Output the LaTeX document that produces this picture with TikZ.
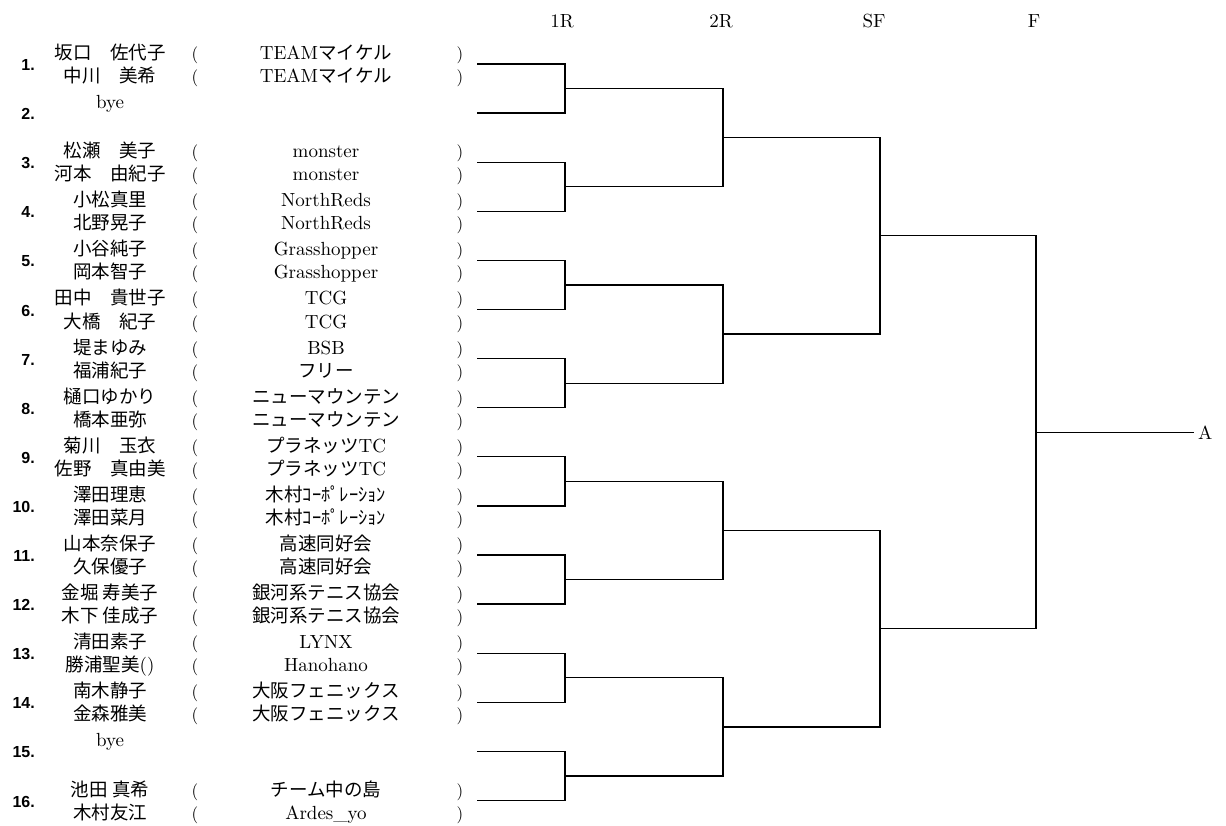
\documentclass[tikz,border=0pt]{standalone}
\usepackage{fontspec}
\setmainfont{lmroman10-regular.otf}
\newfontfamily\jpf{Noto Sans CJK JP}
\newfontfamily\numf{Liberation Sans}
\newcommand\J[1]{{\jpf\fontsize{18.5}{20}\selectfont #1}}
\tikzset{
  latin/.style={font=\fontsize{19}{20}\selectfont, inner sep=0pt},
  txt/.style={latin, anchor=base},
  par/.style={font=\fontsize{17}{20}\selectfont, inner sep=0pt, anchor=base},
  num/.style={font=\numf\bfseries\fontsize{16}{16}\selectfont, inner sep=0pt, anchor=east},
  hdr/.style={latin, anchor=base},
  brk/.style={line width=1.3pt, line cap=rect, line join=miter}
}
\newcommand\entry[5]{%
  \pgfmathsetmacro\yy{64+49.1*(#1-1)}%
  \node[num] (num#1) at (35,\yy+1) {#1.};
  \node[txt] (na#1) at (110,\yy-4.5) {#2};
  \node[par] (pa#1) at (195,\yy-4.5) {(};
  \node[txt] (ta#1) at (326,\yy-4.5) {#3};
  \node[par] (qa#1) at (460,\yy-4.5) {)};
  \node[txt] (nb#1) at (110,\yy+18.5) {#4};
  \node[par] (pb#1) at (195,\yy+18.5) {(};
  \node[txt] (tb#1) at (326,\yy+18.5) {#5};
  \node[par] (qb#1) at (460,\yy+18.5) {)};
  \coordinate (s#1) at (478,\yy);
  \coordinate (e#1) at (565,\yy);
}
\newcommand\byeentry[1]{%
  \pgfmathsetmacro\yy{64+49.1*(#1-1)}%
  \node[num] (num#1) at (35,\yy+1) {#1.};
  \node[txt] (na#1) at (110,\yy-4.5) {bye};
  \coordinate (s#1) at (478,\yy);
  \coordinate (e#1) at (565,\yy);
}
\begin{document}
\begin{tikzpicture}[x=1pt,y=-1pt]
\useasboundingbox (0,0) rectangle (1226,826);
% headers
\node[hdr] (h1) at (562,27.5) {1R};
\node[hdr] (h2) at (721,27.5) {2R};
\node[hdr] (h3) at (874,27.5) {SF};
\node[hdr] (h4) at (1034,27.5) {F};
% entries
\entry{1}{\J{坂口　佐代子}}{TEAM\J{マイケル}}{\J{中川　美希}}{TEAM\J{マイケル}}
\byeentry{2}
\entry{3}{\J{松瀬　美子}}{monster}{\J{河本　由紀子}}{monster}
\entry{4}{\J{小松真里}}{NorthReds}{\J{北野晃子}}{NorthReds}
\entry{5}{\J{小谷純子}}{Grasshopper}{\J{岡本智子}}{Grasshopper}
\entry{6}{\J{田中　貴世子}}{TCG}{\J{大橋　紀子}}{TCG}
\entry{7}{\J{堤まゆみ}}{BSB}{\J{福浦紀子}}{\J{フリー}}
\entry{8}{\J{樋口ゆかり}}{\J{ニューマウンテン}}{\J{橋本亜弥}}{\J{ニューマウンテン}}
\entry{9}{\J{菊川　玉衣}}{\J{プラネッツ}TC}{\J{佐野　真由美}}{\J{プラネッツ}TC}
\entry{10}{\J{澤田理恵}}{\J{木村ｺｰﾎﾟﾚｰｼｮﾝ}}{\J{澤田菜月}}{\J{木村ｺｰﾎﾟﾚｰｼｮﾝ}}
\entry{11}{\J{山本奈保子}}{\J{高速同好会}}{\J{久保優子}}{\J{高速同好会}}
\entry{12}{\J{金堀 寿美子}}{\J{銀河系テニス協会}}{\J{木下 佳成子}}{\J{銀河系テニス協会}}
\entry{13}{\J{清田素子}}{LYNX}{\J{勝浦聖美}()}{Hanohano}
\entry{14}{\J{南木静子}}{\J{大阪フェニックス}}{\J{金森雅美}}{\J{大阪フェニックス}}
\byeentry{15}
\entry{16}{\J{池田 真希}}{\J{チーム中の島}}{\J{木村友江}}{Ardes\_yo}
% level coordinates
\foreach \k in {1,...,8}{
  \coordinate (a\k) at (565,{64+49.1*(2*\k-1.5)});
  \coordinate (b\k) at (723,{64+49.1*(2*\k-1.5)});
}
\foreach \j in {1,...,4}{
  \coordinate (c\j) at (723,{64+49.1*(4*\j-2.5)});
  \coordinate (d\j) at (880,{64+49.1*(4*\j-2.5)});
}
\foreach \h in {1,2}{
  \coordinate (f\h) at (880,{64+49.1*(8*\h-4.5)});
  \coordinate (g\h) at (1036,{64+49.1*(8*\h-4.5)});
}
\coordinate (w) at (1036,{64+49.1*7.5});
\node[latin, anchor=west, inner xsep=5pt] (A) at (1193,{64+49.1*7.5}) {A};
% brackets
\foreach \k [evaluate=\k as \p using int(2*\k-1), evaluate=\k as \q using int(2*\k)] in {1,...,8}{
  \draw[brk] (s\p) -- (e\p) -- (e\q) -- (s\q);
  \draw[brk] (a\k) -- (b\k);
}
\foreach \j [evaluate=\j as \p using int(2*\j-1), evaluate=\j as \q using int(2*\j)] in {1,...,4}{
  \draw[brk] (b\p) -- (b\q);
  \draw[brk] (c\j) -- (d\j);
}
\foreach \h [evaluate=\h as \p using int(2*\h-1), evaluate=\h as \q using int(2*\h)] in {1,2}{
  \draw[brk] (d\p) -- (d\q);
  \draw[brk] (f\h) -- (g\h);
}
\draw[brk] (g1) -- (g2);
\draw[brk] (w) -- (A.west);
\end{tikzpicture}
\end{document}
